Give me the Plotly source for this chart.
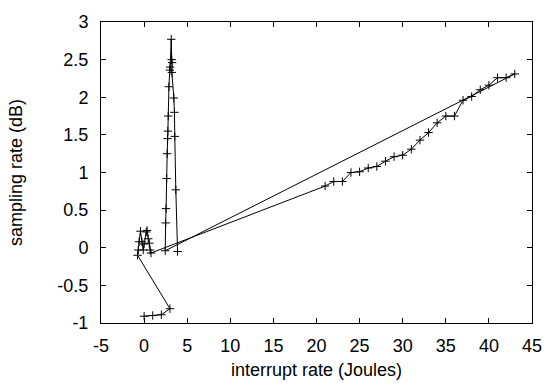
import plotly.graph_objects as go

# path segments
bottom_x = [0.0, 1.0, 2.0, 3.0]
bottom_y = [-0.91, -0.90, -0.89, -0.81]

wiggle_x = [-0.76, -0.68, -0.58, -0.42, -0.25, -0.1, 0.0, 0.25, 0.35, 0.48, 0.6, 0.7, 0.8]
wiggle_y = [-0.10, -0.03, 0.08, 0.22, 0.08, -0.03, 0.05, 0.21, 0.23, 0.12, 0.06, -0.03, -0.07]

right_x = [21, 22, 23, 24, 25, 26, 27, 28, 29, 30, 31, 32, 33, 34, 35, 36, 37, 38, 39, 40, 41, 42, 43]
right_y = [0.82, 0.88, 0.88, 1.00, 1.01, 1.06, 1.08, 1.15, 1.21, 1.23, 1.31, 1.43, 1.53, 1.66, 1.75, 1.75,
           1.96, 2.01, 2.10, 2.16, 2.26, 2.26, 2.31]

spike_x = [2.45, 2.5, 2.55, 2.62, 2.68, 2.73, 2.76, 2.8, 2.88, 2.98, 3.02, 3.15,
           3.2, 3.25, 3.22, 3.45, 3.52, 3.56, 3.68, 3.88]
spike_y = [-0.04, 0.33, 0.52, 0.92, 1.25, 1.45, 1.55, 1.75, 2.14, 2.36, 2.40, 2.77,
           2.50, 2.46, 2.33, 1.99, 1.80, 1.48, 0.77, -0.05]

xs = bottom_x + wiggle_x + right_x + spike_x
ys = bottom_y + wiggle_y + right_y + spike_y

x_ticks = [-5, 0, 5, 10, 15, 20, 25, 30, 35, 40, 45]
y_ticks = [-1, -0.5, 0, 0.5, 1, 1.5, 2, 2.5, 3]

fig = go.Figure()
fig.add_trace(go.Scatter(
    x=xs, y=ys, mode="lines+markers",
    line=dict(color="black", width=1, simplify=False),
    marker=dict(symbol="cross-thin-open", size=6, color="black",
                line=dict(color="black", width=1)),
    showlegend=False, cliponaxis=False,
))

font = dict(family="Liberation Sans, Arial, sans-serif", size=18, color="black")
fig.update_layout(
    width=554, height=390,
    margin=dict(l=101, r=15, t=12, b=67),
    paper_bgcolor="white", plot_bgcolor="white",
    font=font,
    xaxis=dict(range=[-5, 45], tickvals=x_ticks, ticktext=[str(v) for v in x_ticks],
               showgrid=False, zeroline=False, showline=True, linecolor="black",
               linewidth=1, mirror="ticks", ticks="inside", ticklen=5,
               tickcolor="black", ticklabelstandoff=6, ticklabeloverflow="allow",
               title=dict(text="interrupt rate (Joules)", standoff=8, font=font)),
    yaxis=dict(range=[-1, 3], tickvals=y_ticks, ticktext=[f"{v:g}" for v in y_ticks],
               showgrid=False, zeroline=False, showline=True, linecolor="black",
               linewidth=1, mirror="ticks", ticks="inside", ticklen=5,
               tickcolor="black", ticklabelstandoff=8, ticklabeloverflow="allow",
               title=dict(text="sampling rate (dB)", standoff=30, font=font)),
)
fig.write_html("out.html")
